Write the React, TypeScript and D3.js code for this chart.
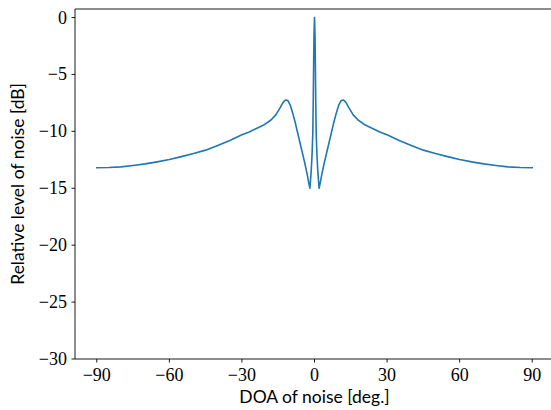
import React from "react";
import * as d3 from "d3";

const doaDeg: number[] = [
  -90, -85, -80, -75, -70, -65, -60, -55, -50, -45, -40, -35, -30, -27, -24, -21, -18, -16, -14, -13, -12, -11, -10, -9, -8, -7, -6, -5, -4, -3, -2.4, -1.9,
  -1.4, -1.0, -0.7, -0.5, -0.35, -0.2, 0,
  0.2, 0.35, 0.5, 0.7, 1.0, 1.4,
  1.9, 2.4, 3, 4, 5, 6, 7, 8, 9, 10, 11, 12, 13, 14, 16, 18, 21, 24, 27, 30, 35, 40, 45, 50, 55, 60, 65, 70, 75, 80, 85, 90,
];
const levelDb: number[] = [
  -13.2, -13.18, -13.12, -13.0, -12.86, -12.68, -12.48, -12.22, -11.95, -11.65, -11.25, -10.8, -10.3, -10.05, -9.75, -9.45, -9.0, -8.55, -7.85, -7.45, -7.25, -7.3, -7.7, -8.4, -9.2, -10.1, -11.0, -11.9, -12.8, -13.8, -14.5, -15.0,
  -13.6, -12.0, -10.2, -7.0, -4.0, -1.5, 0,
  -1.5, -4.0, -7.0, -10.2, -12.0, -13.6,
  -15.0, -14.5, -13.8, -12.8, -11.9, -11.0, -10.1, -9.2, -8.4, -7.7, -7.3, -7.25, -7.45, -7.85, -8.55, -9.0, -9.45, -9.75, -10.05, -10.3, -10.8, -11.25, -11.65, -11.95, -12.22, -12.48, -12.68, -12.86, -13.0, -13.12, -13.18, -13.2,
];
const xTicks: number[] = [-90, -60, -30, 0, 30, 60, 90];
const yTicks: number[] = [0, -5, -10, -15, -20, -25, -30];
const xLabel = "DOA of noise [deg.]";
const yLabel = "Relative level of noise [dB]";

const W = 551;
const H = 410;
const M = { left: 75, top: 9, right: 554, bottom: 359 };

const fmt = (v: number) => (v < 0 ? "\u2212" + Math.abs(v) : String(v));

export default function App() {
  const x = d3.scaleLinear().domain([-99, 99]).range([M.left, M.right]);
  const y = d3.scaleLinear().domain([-30, 0.75]).range([M.bottom, M.top]);
  const pts = doaDeg.map((d, i) => [d, levelDb[i]] as [number, number]);
  const line = d3
    .line<[number, number]>()
    .x((d) => x(d[0]))
    .y((d) => y(d[1]));
  const tickStyle = {
    fontFamily: '"Liberation Serif", "DejaVu Serif", "Times New Roman", serif',
    fontSize: "18px",
  };
  const labelStyle = {
    fontFamily: 'Lato, "DejaVu Sans", sans-serif',
    fontSize: "17.5px",
  };
  return (
    <svg
      width={W}
      height={H}
      style={{ position: "absolute", left: 0, top: 0, background: "#fff" }}
    >
      <rect x={0} y={0} width={W} height={H} fill="#fff" />
      <path
        d={line(pts) || ""}
        fill="none"
        stroke="#1f77b4"
        strokeWidth={1.6}
        strokeLinejoin="round"
        strokeLinecap="square"
      />
      <g stroke="#000" strokeWidth={0.9} fill="none">
        <line x1={M.left} y1={M.top} x2={M.left} y2={M.bottom} />
        <line x1={M.left} y1={M.bottom} x2={M.right} y2={M.bottom} />
        <line x1={M.left} y1={M.top} x2={M.right} y2={M.top} />
        <line x1={M.right} y1={M.top} x2={M.right} y2={M.bottom} />
      </g>
      {xTicks.map((t) => (
        <g key={"x" + t}>
          <line x1={x(t)} x2={x(t)} y1={M.bottom} y2={M.bottom + 3.5} stroke="#000" strokeWidth={0.9} />
          <text x={x(t)} y={M.bottom + 22} textAnchor="middle" style={tickStyle} fill="#000">
            {fmt(t)}
          </text>
        </g>
      ))}
      {yTicks.map((t) => (
        <g key={"y" + t}>
          <line x1={M.left - 3.5} x2={M.left} y1={y(t)} y2={y(t)} stroke="#000" strokeWidth={0.9} />
          <text x={M.left - 8} y={y(t) + 6} textAnchor="end" style={tickStyle} fill="#000">
            {fmt(t)}
          </text>
        </g>
      ))}
      <text x={x(0)} y={403} textAnchor="middle" style={labelStyle} fill="#000">
        {xLabel}
      </text>
      <text
        transform={`translate(24, ${(M.top + M.bottom) / 2}) rotate(-90)`}
        textAnchor="middle"
        style={labelStyle}
        fill="#000"
      >
        {yLabel}
      </text>
    </svg>
  );
}
